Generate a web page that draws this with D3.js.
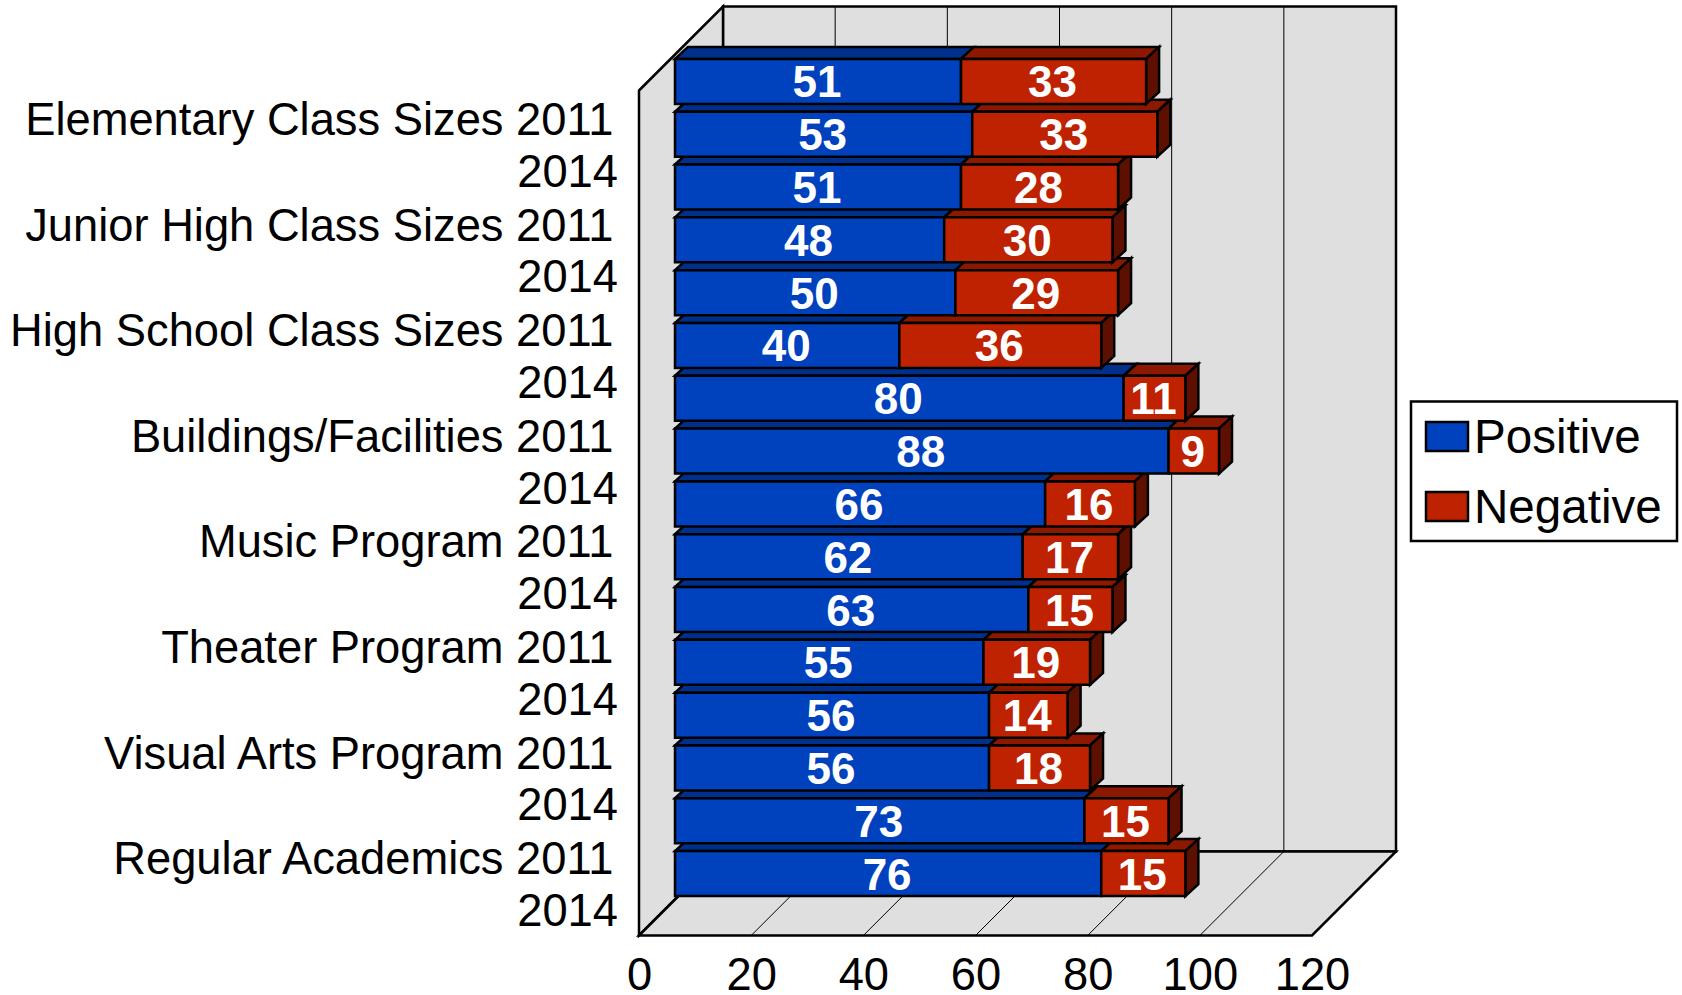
<!DOCTYPE html>
<html>
<head>
<meta charset="utf-8">
<script src="https://cdn.jsdelivr.net/npm/d3@7"></script>
<style>
  body { margin: 0; background: #fff; }
  svg { display: block; }
  text { font-family: "Liberation Sans", Arial, sans-serif; fill: #000; }
</style>
</head>
<body>
<div id="chart"></div>
<script>
const categoryLabels = [
  "Elementary Class Sizes 2011", "2014",
  "Junior High Class Sizes 2011", "2014",
  "High School Class Sizes 2011", "2014",
  "Buildings/Facilities 2011", "2014",
  "Music Program 2011", "2014",
  "Theater Program 2011", "2014",
  "Visual Arts Program 2011", "2014",
  "Regular Academics 2011", "2014",
];
const positiveValues = [51, 53, 51, 48, 50, 40, 80, 88, 66, 62, 63, 55, 56, 56, 73, 76];
const negativeValues = [33, 33, 28, 30, 29, 36, 11, 9, 16, 17, 15, 19, 14, 18, 15, 15];
const xTicks = [0, 20, 40, 60, 80, 100, 120];
const gridTicks = [20, 40, 60, 80, 100];
const seriesNames = ["Positive", "Negative"];

const width = 1682;
const height = 995;
const colors = {
  Positive: { front: "#0041be", top: "#002f8c" },
  Negative: { front: "#be2200", top: "#8c1800", side: "#5e1000" },
};
const wall = "#dfdfdf";

// 3d box of the plot: front plane plus the shift to the back wall
const plot = { left: 639, right: 1312, top: 90.5, bottom: 935.5, depthX: 84, depthY: 84 };
const barShift = { x: 36, y: 35.5 };
const barDepth = { x: 13, y: 12 };

const x = d3.scaleLinear().domain([0, 120]).range([plot.left, plot.right]);
const y = d3
  .scaleBand()
  .domain(d3.range(categoryLabels.length))
  .range([plot.top, plot.bottom])
  .paddingInner(0.148)
  .paddingOuter(0.074);

const svg = d3.select("#chart").append("svg").attr("width", width).attr("height", height);

const poly = (pts, fill, sw = 2.5) =>
  svg
    .append("polygon")
    .attr("points", pts.map((p) => p.join(",")).join(" "))
    .attr("fill", fill)
    .attr("stroke", "#000")
    .attr("stroke-width", sw)
    .attr("stroke-linejoin", "miter");

const dx = plot.depthX;
const dy = plot.depthY;

// walls and floor
poly([[plot.left + dx, plot.top - dy], [plot.right + dx, plot.top - dy], [plot.right + dx, plot.bottom - dy], [plot.left + dx, plot.bottom - dy]], wall);
poly([[plot.left, plot.top], [plot.left + dx, plot.top - dy], [plot.left + dx, plot.bottom - dy], [plot.left, plot.bottom]], wall);
poly([[plot.left, plot.bottom], [plot.left + dx, plot.bottom - dy], [plot.right + dx, plot.bottom - dy], [plot.right, plot.bottom]], wall);

// gridlines, floor then back wall
svg
  .append("g")
  .selectAll("path")
  .data(gridTicks)
  .join("path")
  .attr("d", (d) => `M${x(d)},${plot.bottom}L${x(d) + dx},${plot.bottom - dy}L${x(d) + dx},${plot.top - dy}`)
  .attr("fill", "none")
  .attr("stroke", "#000")
  .attr("stroke-width", 1);

// bars go bottom row first, the upper row covers the top face of the one below
const rows = d3.range(categoryLabels.length).reverse();
rows.forEach((i) => {
  const x0 = x(0) + barShift.x;
  const x1 = x(positiveValues[i]) + barShift.x;
  const x2 = x(positiveValues[i] + negativeValues[i]) + barShift.x;
  const y0 = y(i) - barShift.y;
  const y1 = y0 + y.bandwidth();
  const ox = barDepth.x;
  const oy = barDepth.y;

  poly([[x0, y0], [x0 + ox, y0 - oy], [x1 + ox, y0 - oy], [x1, y0]], colors.Positive.top);
  poly([[x1, y0], [x1 + ox, y0 - oy], [x2 + ox, y0 - oy], [x2, y0]], colors.Negative.top);
  poly([[x2, y0], [x2 + ox, y0 - oy], [x2 + ox, y1 - oy], [x2, y1]], colors.Negative.side);
  poly([[x0, y0], [x1, y0], [x1, y1], [x0, y1]], colors.Positive.front);
  poly([[x1, y0], [x2, y0], [x2, y1], [x1, y1]], colors.Negative.front);

  svg
    .append("text")
    .attr("x", (x0 + x1) / 2 - 1)
    .attr("y", y0 + y.bandwidth() / 2 + 16)
    .attr("text-anchor", "middle")
    .attr("font-size", 44)
    .attr("font-weight", "bold")
    .style("fill", "#fff")
    .text(positiveValues[i]);

  svg
    .append("text")
    .attr("x", (x1 + x2) / 2 - 1)
    .attr("y", y0 + y.bandwidth() / 2 + 16)
    .attr("text-anchor", "middle")
    .attr("font-size", 44)
    .attr("font-weight", "bold")
    .style("fill", "#fff")
    .text(negativeValues[i]);
});

// category labels, the ones with a name sit a bit left of the plain years
svg
  .append("g")
  .selectAll("text")
  .data(categoryLabels)
  .join("text")
  .attr("x", (d) => (d === "2014" ? 618 : 613.5))
  .attr("y", (d, i) => y(i) + y.bandwidth() / 2 + (d === "2014" ? 17 : 18))
  .attr("text-anchor", "end")
  .attr("font-size", 45.3)
  .text((d) => d);

// value axis labels
const xAxis = d3.axisBottom(x).tickValues(xTicks).tickSize(0).tickPadding(0);
const gAxis = svg.append("g").attr("transform", `translate(0, ${plot.bottom})`).call(xAxis);
gAxis.select(".domain").remove();
gAxis
  .selectAll("text")
  .attr("font-size", 45.3)
  .attr("dy", null)
  .attr("y", 54.5)
  .style("font-family", '"Liberation Sans", Arial, sans-serif');

// legend
const legend = svg.append("g");
legend
  .append("rect")
  .attr("x", 1411)
  .attr("y", 401.5)
  .attr("width", 266)
  .attr("height", 139.5)
  .attr("fill", "#fff")
  .attr("stroke", "#000")
  .attr("stroke-width", 2.5);

seriesNames.forEach((name, i) => {
  legend
    .append("rect")
    .attr("x", 1426)
    .attr("y", 422 + i * 70)
    .attr("width", 42)
    .attr("height", 29)
    .attr("fill", colors[name].front)
    .attr("stroke", "#000")
    .attr("stroke-width", 2.5);
  legend
    .append("text")
    .attr("x", 1474)
    .attr("y", 453 + i * 70)
    .attr("font-size", 47.6)
    .text(name);
});
</script>
</body>
</html>
